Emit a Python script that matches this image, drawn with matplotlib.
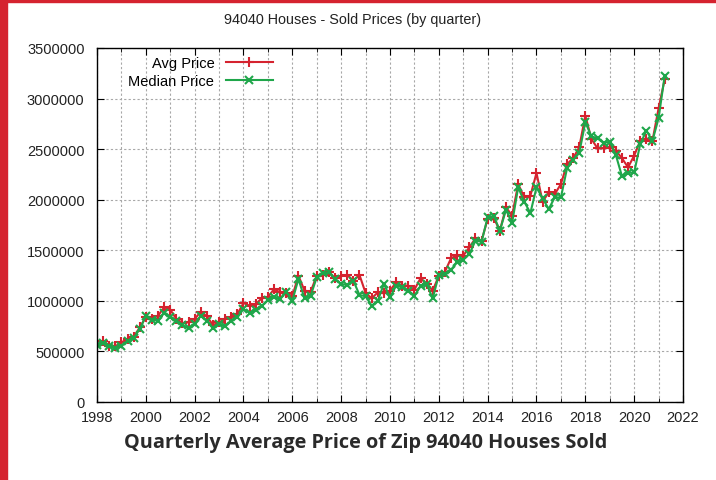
import matplotlib
matplotlib.use("Agg")
import matplotlib.pyplot as plt
from matplotlib.patches import Rectangle
from matplotlib.ticker import MultipleLocator

# quarterly sale prices, 1998 Q1 .. 2021 Q2 (in $M)
start_year = 1998
avg_price = [
    0.564, 0.606, 0.557, 0.550, 0.590, 0.623, 0.640, 0.738,   # 1998-1999
    0.837, 0.821, 0.853, 0.936, 0.913, 0.821, 0.781, 0.788,   # 2000-2001
    0.821, 0.893, 0.847, 0.761, 0.788, 0.821, 0.844, 0.870,   # 2002-2003
    0.979, 0.952, 0.969, 1.025, 1.035, 1.117, 1.084, 1.078,   # 2004-2005
    1.045, 1.249, 1.101, 1.091, 1.249, 1.256, 1.282, 1.223,   # 2006-2007
    1.249, 1.256, 1.199, 1.256, 1.078, 1.025, 1.084, 1.075,   # 2008-2009
    1.101, 1.183, 1.150, 1.150, 1.111, 1.223, 1.167, 1.101,   # 2010-2011
    1.249, 1.289, 1.421, 1.453, 1.447, 1.530, 1.618, 1.595,   # 2012-2013
    1.810, 1.820, 1.694, 1.925, 1.842, 2.155, 2.023, 2.040,   # 2014-2015
    2.264, 1.980, 2.073, 2.056, 2.155, 2.353, 2.410, 2.518,   # 2016-2017
    2.831, 2.600, 2.508, 2.508, 2.518, 2.485, 2.410, 2.320,   # 2018-2019
    2.436, 2.584, 2.600, 2.584, 2.904, 3.190,                 # 2020-2021
]
median_price = [
    0.564, 0.583, 0.550, 0.531, 0.550, 0.606, 0.630, 0.722,
    0.847, 0.811, 0.804, 0.880, 0.837, 0.804, 0.761, 0.728,
    0.771, 0.853, 0.804, 0.728, 0.771, 0.748, 0.804, 0.837,
    0.920, 0.880, 0.913, 0.952, 1.008, 1.035, 1.018, 1.091,
    1.002, 1.216, 1.025, 1.051, 1.233, 1.272, 1.282, 1.216,
    1.167, 1.157, 1.199, 1.058, 1.045, 0.952, 1.002, 1.167,
    1.035, 1.150, 1.134, 1.101, 1.051, 1.144, 1.167, 1.025,
    1.256, 1.266, 1.308, 1.381, 1.407, 1.463, 1.595, 1.585,
    1.826, 1.840, 1.694, 1.900, 1.770, 2.122, 1.980, 1.869,
    2.122, 2.014, 1.908, 2.023, 2.023, 2.310, 2.396, 2.462,
    2.765, 2.627, 2.607, 2.561, 2.574, 2.442, 2.232, 2.264,
    2.270, 2.551, 2.683, 2.584, 2.805, 3.226,
]
quarters = [start_year + i / 4 for i in range(len(avg_price))]
avg_usd = [v * 1e6 for v in avg_price]
med_usd = [v * 1e6 for v in median_price]

RED = '#d5232f'
GREEN = '#1fa64a'

fig = plt.figure(figsize=(7.16, 4.81), dpi=100)
ax = fig.add_axes([97/716, 78/481, 586/716, 354/481])

ax.plot(quarters, avg_usd, color=RED, lw=1.5, marker='+', ms=7, mew=1.5,
        label='Avg Price')
ax.plot(quarters, med_usd, color=GREEN, lw=1.5, marker='x', ms=6, mew=1.5,
        label='Median Price')

ax.set_xlim(1998, 2022)
ax.set_ylim(0, 3500000)
ax.xaxis.set_major_locator(MultipleLocator(2))
ax.xaxis.set_minor_locator(MultipleLocator(1))
ax.yaxis.set_major_locator(MultipleLocator(500000))
ax.ticklabel_format(style='plain', axis='y', useOffset=False)

ax.grid(True, which='both', axis='x', color='#a8a8a8', ls=(0, (2, 2)), lw=0.8)
ax.grid(True, which='major', axis='y', color='#a8a8a8', ls=(0, (2, 2)), lw=0.8)
ax.tick_params(which='both', direction='in', top=True, right=True,
               labelsize=10.5, color='black')
ax.tick_params(which='major', length=5)
ax.tick_params(which='minor', length=3)
ax.tick_params(axis='y', pad=9)
ax.tick_params(axis='x', pad=6)
for lab in ax.get_xticklabels() + ax.get_yticklabels():
    lab.set_fontfamily('Liberation Sans')
    lab.set_color('#222222')
for s in ax.spines.values():
    s.set_linewidth(1.0)

leg = ax.legend(loc='upper left', bbox_to_anchor=(0.04, 1.0), frameon=False,
                markerfirst=False, handlelength=3.2, handletextpad=0.8,
                labelspacing=0.3, borderaxespad=0.15,
                prop={'family': 'Liberation Sans', 'size': 10.5})

fig.text(0.492, 1 - 20/481, '94040 Houses - Sold Prices (by quarter)',
         ha='center', va='center', family='Liberation Sans', fontsize=10.4,
         color='#222222')
fig.text(366/716, 1 - 443/481, 'Quarterly Average Price of Zip 94040 Houses Sold',
         ha='center', va='center', family='Open Sans', fontweight='bold',
         fontsize=14.3, color='#2a2a2a')

# red frame strips on the page
fig.patches.append(Rectangle((0, 0), 7/716, 1, transform=fig.transFigure,
                             color=RED, zorder=0))
fig.patches.append(Rectangle((0, 1 - 3/481), 1, 3/481, transform=fig.transFigure,
                             color=RED, zorder=0))

fig.savefig('out.png', dpi=100)
